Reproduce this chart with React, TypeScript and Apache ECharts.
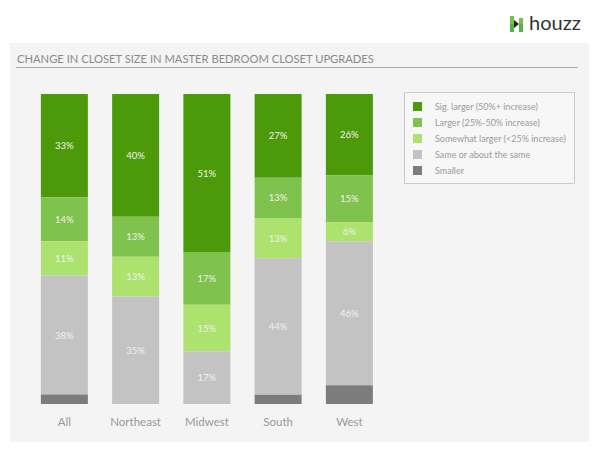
import React, { useEffect, useRef } from "react";
import * as echarts from "echarts";

const categories = ["All", "Northeast", "Midwest", "South", "West"];
const seriesNames = [
  "Sig. larger (50%+ increase)",
  "Larger (25%-50% increase)",
  "Somewhat larger (<25% increase)",
  "Same or about the same",
  "Smaller",
];
const sigLarger = [33, 40, 51, 27, 26];
const larger = [14, 13, 17, 13, 15];
const somewhatLarger = [11, 13, 15, 13, 6];
const same = [38, 35, 17, 44, 46];
const smaller = [3, 0, 0, 3, 6];
const colors = ["#4c9a0a", "#80c24e", "#ade26f", "#c3c3c3", "#7c7c7c"];
const title = "CHANGE IN CLOSET SIZE IN MASTER BEDROOM CLOSET UPGRADES";

const FONT = "Lato, 'Noto Sans', sans-serif";

export default function App() {
  const ref = useRef<HTMLDivElement>(null);
  useEffect(() => {
    if (!ref.current) return;
    const chart = echarts.init(ref.current, null, { renderer: "svg" });
    const raw = [sigLarger, larger, somewhatLarger, same, smaller];
    const totals = categories.map((_, i) => raw.reduce((s, arr) => s + arr[i], 0));
    const series = raw.map((arr, si) => ({
      name: seriesNames[si],
      type: "bar",
      stack: "total",
      barWidth: 47,
      itemStyle: { color: colors[si] },
      data: arr.map((v, i) => ({ value: (v / totals[i]) * 100, raw: v })),
      label: {
        show: si < 4,
        position: "inside",
        color: "#eef3ea",
        fontSize: 9.5,
        fontFamily: FONT,
        formatter: (p: any) => (p.data.raw > 0 ? p.data.raw + "%" : ""),
      },
    }));
    chart.setOption({
      animation: false,
      backgroundColor: "#ffffff",
      textStyle: { fontFamily: FONT },
      graphic: [
        { type: "rect", z: -10, shape: { x: 10, y: 43, width: 579, height: 399 }, style: { fill: "#f4f4f4" } },
        { type: "text", x: 17, y: 58.5, style: { text: title, fill: "#8a8a8a", fontSize: 11.2, fontFamily: FONT, verticalAlign: "middle" } },
        { type: "line", shape: { x1: 16, y1: 67.5, x2: 578, y2: 67.5 }, style: { stroke: "#a8a8a8", lineWidth: 1.2 } },
        { type: "rect", shape: { x: 404.5, y: 92.5, width: 170, height: 91 }, style: { fill: "#f7f7f7", stroke: "#c9c9c9", lineWidth: 1 } },
        { type: "rect", shape: { x: 510, y: 16, width: 4, height: 8 }, style: { fill: "#7ac143" } },
        { type: "rect", shape: { x: 510, y: 24, width: 4, height: 8 }, style: { fill: "#4db848" } },
        { type: "rect", shape: { x: 519, y: 18, width: 4, height: 6 }, style: { fill: "#7ac143" } },
        { type: "rect", shape: { x: 519, y: 24, width: 4, height: 8 }, style: { fill: "#4db848" } },
        { type: "polygon", shape: { points: [[514, 20], [519, 24], [514, 28]] }, style: { fill: "#222" } },
        { type: "text", x: 529, y: 32, style: { text: "houzz", fill: "#333", fontSize: 20, fontFamily: FONT, verticalAlign: "bottom" } },
      ],
      legend: {
        orient: "vertical",
        left: 413,
        top: 102,
        padding: 0,
        itemWidth: 9,
        itemHeight: 9,
        itemGap: 7,
        icon: "rect",
        data: seriesNames,
        selectedMode: false,
        textStyle: { fontSize: 9, color: "#9a9a9a", lineHeight: 9, padding: [0, 0, 0, 8], fontFamily: FONT },
      },
      grid: { left: 28.75, top: 94, width: 356.25, height: 310, containLabel: false },
      xAxis: {
        type: "category",
        data: categories,
        axisLine: { show: false },
        axisTick: { show: false },
        axisLabel: { color: "#999", fontSize: 11.5, margin: 11, fontFamily: FONT },
      },
      yAxis: { type: "value", min: 0, max: 100, inverse: true, show: false, splitLine: { show: false } },
      series,
    });
    return () => chart.dispose();
  }, []);
  return <div ref={ref} style={{ position: "fixed", left: 0, top: 0, width: 600, height: 453 }} />;
}
